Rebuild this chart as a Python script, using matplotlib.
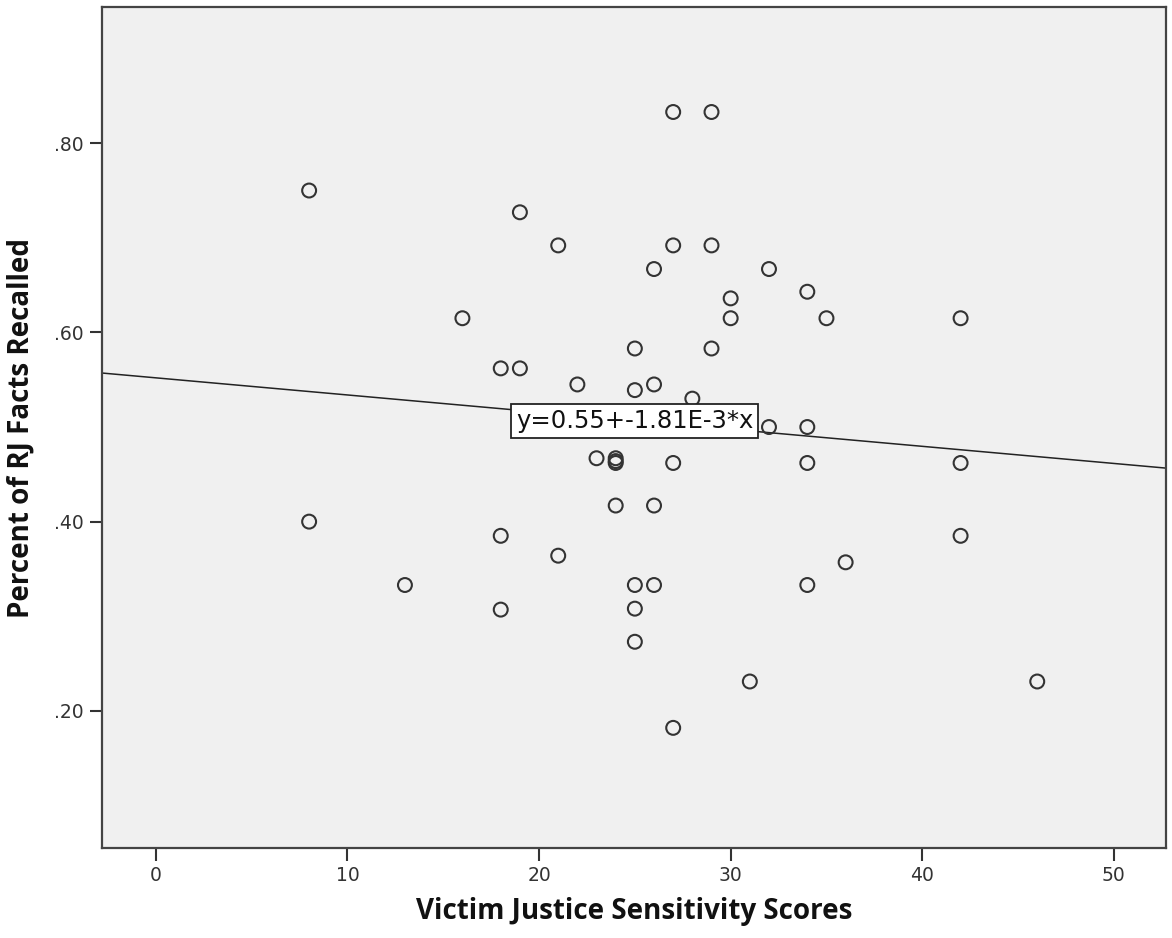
import numpy as np
import matplotlib.pyplot as plt

# Victim justice sensitivity score vs. share of RJ facts recalled
vjs_scores = [8, 8, 13, 16, 18, 18, 18, 19, 19, 21, 21, 22, 23,
              24, 24, 24, 24, 25, 25, 25, 25, 25, 26, 26, 26, 26,
              27, 27, 27, 27, 28, 29, 29, 29, 30, 30, 31, 32, 32,
              34, 34, 34, 34, 35, 36, 42, 42, 42, 46]
pct_recalled = [.750, .400, .333, .615, .562, .385, .307, .727, .562, .692, .364, .545, .467,
                .467, .464, .462, .417, .583, .539, .333, .308, .273, .667, .545, .417, .333,
                .833, .692, .462, .182, .530, .833, .692, .583, .636, .615, .231, .667, .500,
                .643, .500, .462, .333, .615, .357, .615, .462, .385, .231]

fit_intercept = 0.552
fit_slope = -1.81e-3
fit_label = 'y=0.55+-1.81E-3*x'

x_ticks = [0, 10, 20, 30, 40, 50]
y_ticks = [.20, .40, .60, .80]
y_ticklabels = ['.20', '.40', '.60', '.80']

fig = plt.figure(figsize=(11.72, 9.38), dpi=100)
ax = fig.add_axes([102/1172, 1 - 848/938, 1064/1172, 841/938])
ax.set_facecolor('#f0f0f0')

ax.scatter(vjs_scores, pct_recalled, s=100, facecolors='none',
           edgecolors='#333333', linewidths=1.5, zorder=3)

xmin, xmax = -2.81, 52.72
xs = np.array([xmin, xmax])
ax.plot(xs, fit_intercept + fit_slope * xs, color='#222222', lw=1.1, zorder=2)

xm = 25
ax.text(xm, fit_intercept + fit_slope * xm, fit_label, ha='center', va='center',
        fontsize=17.5, color='#111111', zorder=4,
        bbox=dict(boxstyle='square,pad=0.2', fc='white', ec='#222222', lw=1.3))

ax.set_xlim(xmin, xmax)
ax.set_ylim(0.055, 0.944)
ax.set_xticks(x_ticks)
ax.set_yticks(y_ticks)
ax.set_yticklabels(y_ticklabels)
ax.tick_params(axis='both', direction='out', length=9, width=1.5,
               color='#333333', labelcolor='#333333', labelsize=13.5, pad=4)

for sp in ax.spines.values():
    sp.set_color('#444444')
    sp.set_linewidth(1.6)

lab_font = dict(family='Open Sans', fontweight='bold', fontsize=20, color='#111111')
ax.set_xlabel('Victim Justice Sensitivity Scores', **lab_font)
ax.set_ylabel('Percent of RJ Facts Recalled', **lab_font)
ax.xaxis.set_label_coords(0.5, -0.058)
ax.yaxis.set_label_coords(-0.062, 0.5)

plt.savefig('out.png', dpi=100)
